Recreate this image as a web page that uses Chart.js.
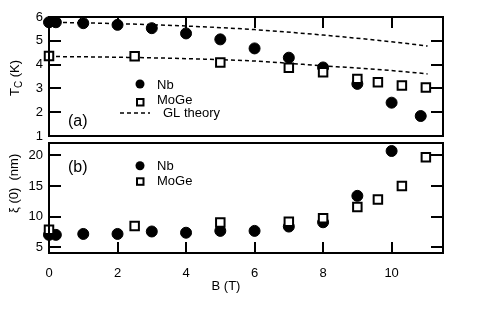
<!DOCTYPE html>
<html>
<head>
<meta charset="utf-8">
<script src="https://cdn.jsdelivr.net/npm/chart.js@4.4.1/dist/chart.umd.min.js"></script>
<style>
  body { margin: 0; background: #fff; }
  #wrap { position: relative; width: 485px; height: 316px; background: #fff; }
  canvas { position: absolute; left: 0; }
  #top, #topTicks { top: 0; }
  #bottom, #bottomTicks { top: 140px; }
  #topTicks, #bottomTicks { pointer-events: none; }
</style>
</head>
<body>
<div id="wrap">
  <canvas id="top" width="485" height="140"></canvas>
  <canvas id="bottom" width="485" height="176"></canvas>
  <canvas id="topTicks" width="485" height="140"></canvas>
  <canvas id="bottomTicks" width="485" height="176"></canvas>
</div>
<script>
// field ticks (T)
const bTicks = [0, 2, 4, 6, 8, 10];
const tcTicks = [1, 2, 3, 4, 5, 6];
const xiTicks = [5, 10, 15, 20];

// (a) critical temperature (K) vs field B (T)
const nbB = [0, 0.2, 1, 2, 3, 4, 5, 6, 7, 8, 9, 10, 10.85];
const nbTc = [5.78, 5.78, 5.74, 5.67, 5.53, 5.31, 5.06, 4.68, 4.29, 3.88, 3.19, 2.4, 1.84];
const mogeB = [0, 2.5, 5, 7, 8, 9, 9.6, 10.3, 11];
const mogeTc = [4.36, 4.35, 4.09, 3.87, 3.68, 3.4, 3.26, 3.12, 3.04];
const glB = [0, 2, 4, 6, 8, 10, 11.05];
const glNb = [5.78, 5.72, 5.62, 5.47, 5.24, 4.96, 4.78];
const glMoGe = [4.34, 4.31, 4.25, 4.15, 3.95, 3.75, 3.61];

// (b) coherence length xi(0) (nm)
const nbXiB = [0, 0.2, 1, 2, 3, 4, 5, 6, 7, 8, 9, 10];
const nbXi = [7.05, 7.05, 7.2, 7.2, 7.6, 7.4, 7.7, 7.7, 8.4, 9.1, 13.4, 20.7];
const mogeXi = [7.9, 8.5, 9.05, 9.2, 9.75, 11.6, 12.8, 15.0, 19.7];

const pts = (xs, ys) => xs.map((x, i) => ({ x: x, y: ys[i] }));

Chart.defaults.font.family = '"Liberation Sans", Arial, sans-serif';
Chart.defaults.font.size = 13;
Chart.defaults.color = '#000';

const FONT = '"Liberation Sans", Arial, sans-serif';

const nbStyle = {
  pointStyle: 'circle', pointRadius: 5.5, backgroundColor: '#000', borderColor: '#000', borderWidth: 1, clip: false
};
const mogeStyle = {
  pointStyle: 'rect', pointRadius: 6, backgroundColor: '#fff', borderColor: '#000', borderWidth: 2, clip: false
};
const glStyle = {
  showLine: true, pointRadius: 0, borderColor: '#000', borderWidth: 1.5, borderDash: [4, 3],
  cubicInterpolationMode: 'monotone', fill: false
};

// frame, panel label, legend and axis titles
const panelText = {
  id: 'panelText',
  afterDraw(chart, args, o) {
    const ctx = chart.ctx;
    const a = chart.chartArea;
    ctx.save();
    ctx.fillStyle = '#000';
    ctx.strokeStyle = '#000';
    ctx.lineWidth = 2;
    ctx.strokeRect(a.left, a.top, a.right - a.left, a.bottom - a.top);

    ctx.font = '16px ' + FONT;
    ctx.textBaseline = 'alphabetic';
    ctx.textAlign = 'left';
    ctx.fillText(o.panel, 68, o.panelY);

    ctx.font = '13px ' + FONT;
    o.legend.forEach(item => {
      if (item.kind === 'circle') {
        ctx.beginPath(); ctx.arc(140, item.y, 4.5, 0, Math.PI * 2); ctx.fill();
      } else if (item.kind === 'rect') {
        ctx.lineWidth = 2; ctx.strokeRect(137, item.y - 3, 6.5, 6.5);
      } else {
        ctx.lineWidth = 1.5; ctx.setLineDash([4, 3]);
        ctx.beginPath(); ctx.moveTo(120, item.y); ctx.lineTo(150, item.y); ctx.stroke();
        ctx.setLineDash([]);
      }
      ctx.fillText(item.text, item.tx, item.ty);
    });

    if (o.xTitle) {
      ctx.textAlign = 'center';
      ctx.fillText(o.xTitle, 226, o.xTitleY);
      ctx.textAlign = 'left';
    }

    ctx.translate(o.ytX, o.ytY);
    ctx.rotate(-Math.PI / 2);
    let cx = 0;
    o.yTitle.forEach(part => {
      ctx.font = part.size + 'px ' + FONT;
      ctx.fillText(part.t, cx, part.dy || 0);
      cx += ctx.measureText(part.t).width;
    });
    ctx.restore();
  }
};

const xScale = (labels) => ({
  type: 'linear', min: 0, max: 11.5, display: labels,
  grid: { display: false, drawTicks: false }, border: { display: false },
  ticks: { stepSize: 2, includeBounds: false, padding: 13, maxRotation: 0 },
  afterFit: s => { s.paddingLeft = 0; s.paddingRight = 0; if (labels) s.height = 63; }
});

const yScale = (min, max, step) => ({
  type: 'linear', min: min, max: max,
  grid: { display: false, drawTicks: false }, border: { display: false },
  ticks: { stepSize: step, includeBounds: false, padding: 6 },
  afterFit: s => { s.width = 49; s.paddingTop = 0; s.paddingBottom = 0; }
});

const topChart = new Chart(document.getElementById('top'), {
  type: 'scatter',
  data: {
    datasets: [
      Object.assign({ label: 'MoGe', data: pts(mogeB, mogeTc) }, mogeStyle),
      Object.assign({ label: 'Nb', data: pts(nbB, nbTc) }, nbStyle),
      Object.assign({ label: 'GL theory Nb', data: pts(glB, glNb) }, glStyle),
      Object.assign({ label: 'GL theory MoGe', data: pts(glB, glMoGe) }, glStyle)
    ]
  },
  options: {
    responsive: false, animation: false, devicePixelRatio: 1,
    layout: { autoPadding: false, padding: { top: 17, right: 42, bottom: 4, left: 0 } },
    scales: { x: xScale(false), y: yScale(1, 6, 1) },
    plugins: {
      legend: { display: false }, tooltip: { enabled: false },
      panelText: {
        panel: '(a)', panelY: 125.5,
        legend: [
          { kind: 'circle', y: 84, text: 'Nb', tx: 157, ty: 88.5 },
          { kind: 'rect', y: 102, text: 'MoGe', tx: 157, ty: 103.5 },
          { kind: 'dash', y: 113, text: 'GL theory', tx: 163, ty: 116.5 }
        ],
        ytX: 19, ytY: 96,
        yTitle: [{ t: 'T', size: 13 }, { t: 'C', size: 10, dy: 3 }, { t: ' (K)', size: 13 }]
      }
    }
  },
  plugins: [panelText]
});

const bottomChart = new Chart(document.getElementById('bottom'), {
  type: 'scatter',
  data: {
    datasets: [
      Object.assign({ label: 'MoGe', data: pts(mogeB, mogeXi) }, mogeStyle),
      Object.assign({ label: 'Nb', data: pts(nbXiB, nbXi) }, nbStyle)
    ]
  },
  options: {
    responsive: false, animation: false, devicePixelRatio: 1,
    layout: { autoPadding: false, padding: { top: 3, right: 42, bottom: 0, left: 0 } },
    scales: { x: xScale(true), y: yScale(4.1, 22, 5) },
    plugins: {
      legend: { display: false }, tooltip: { enabled: false },
      panelText: {
        panel: '(b)', panelY: 32,
        legend: [
          { kind: 'circle', y: 25.7, text: 'Nb', tx: 157, ty: 30 },
          { kind: 'rect', y: 41.3, text: 'MoGe', tx: 157, ty: 45 }
        ],
        ytX: 18, ytY: 73,
        yTitle: [{ t: 'ξ (0)  (nm)', size: 13 }],
        xTitle: 'B (T)', xTitleY: 150
      }
    }
  },
  plugins: [panelText]
});

// inward tick marks on an overlay, placed with each chart's own scales
function drawTicks(chart, canvasId, yVals, xEdge) {
  const ctx = document.getElementById(canvasId).getContext('2d');
  const a = chart.chartArea;
  const xs = chart.scales.x, ys = chart.scales.y;
  ctx.clearRect(0, 0, ctx.canvas.width, ctx.canvas.height);
  ctx.fillStyle = '#000';
  yVals.forEach(v => {
    const y = Math.round(ys.getPixelForValue(v));
    ctx.fillRect(a.left, y - 1, 12, 2);
    ctx.fillRect(a.right - 12, y - 1, 12, 2);
  });
  bTicks.forEach(v => {
    const x = Math.round(xs.getPixelForValue(v));
    if (xEdge === 'top') ctx.fillRect(x - 1, a.top, 2, 11);
    else ctx.fillRect(x - 1, a.bottom - 11, 2, 11);
  });
}

drawTicks(topChart, 'topTicks', tcTicks, 'top');
drawTicks(bottomChart, 'bottomTicks', xiTicks, 'bottom');
</script>
</body>
</html>
